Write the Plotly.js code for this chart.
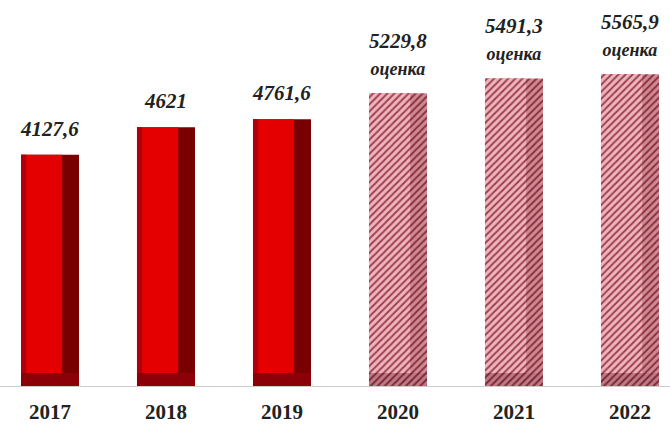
<!DOCTYPE html>
<html>
<head>
<meta charset="utf-8">
<script src="https://cdn.plot.ly/plotly-3.0.1.min.js"></script>
<style>html,body{margin:0;padding:0;background:#fff}#chart{width:670px;height:424px}</style>
</head>
<body>
<div id="chart"></div>
<script>
// ---- data ----
const years = ["2017", "2018", "2019", "2020", "2021", "2022"];
const values = [4127.6, 4621, 4761.6, 5229.8, 5491.3, 5565.9];
const valueLabels = ["4127,6", "4621", "4761,6", "5229,8", "5491,3", "5565,9"];
const isEstimate = [false, false, false, true, true, true];
const estimateNote = "оценка";

// ---- helpers ----
const pick = (arr, flag) => arr.filter((_, i) => isEstimate[i] === flag);
const actX = pick(years, false), actY = pick(values, false);
const estX = pick(years, true), estY = pick(values, true);

const W = 0.5;           // full bar width (category units)
const FRONT_W = 0.355;   // front face width
const BASE = 230;        // bottom face thickness (value units)

function solidSet(x, y) {
  return [
    {type: 'bar', x, y, width: W, marker: {color: '#780000'}, hoverinfo: 'skip'},
    {type: 'bar', x, y: y.map(v => v - BASE), base: BASE, width: FRONT_W, offset: -W/2,
     marker: {color: '#e40000'}, hoverinfo: 'skip'},
    {type: 'bar', x, y: y.map(v => v - BASE), base: BASE, width: 0.045, offset: -W/2,
     marker: {color: '#b0000c'}, hoverinfo: 'skip'},
    {type: 'bar', x, y: y.map(() => BASE), width: W, marker: {color: '#8c0008'}, hoverinfo: 'skip'}
  ];
}
function hatchSet(x, y) {
  return [
    {type: 'bar', x, y, width: W, hoverinfo: 'skip',
     marker: {color: '#c98088', pattern: {shape: '/', bgcolor: '#d08a92', fgcolor: '#8a3040', size: 5, solidity: 0.4}}},
    {type: 'bar', x, y: y.map(v => v - BASE), base: BASE, width: FRONT_W, offset: -W/2, hoverinfo: 'skip',
     marker: {color: '#eab0b6', pattern: {shape: '/', bgcolor: '#eeb6bc', fgcolor: '#a04050', size: 5, solidity: 0.4}}},
    {type: 'bar', x, y: y.map(() => BASE), width: W, hoverinfo: 'skip',
     marker: {color: '#b87078', pattern: {shape: '/', bgcolor: '#c07a84', fgcolor: '#7a2838', size: 5, solidity: 0.4}}}
  ];
}

const traces = [...solidSet(actX, actY), ...hatchSet(estX, estY)];

const annotations = years.map((yr, i) => ({
  x: i, y: values[i], xref: 'x', yref: 'y',
  xanchor: 'center', yanchor: 'bottom', yshift: 12, showarrow: false,
  text: isEstimate[i]
    ? valueLabels[i] + '<br><span style="font-size:18px;font-style:italic;font-weight:bold">' + estimateNote + '</span>'
    : valueLabels[i],
  font: {family: 'Liberation Serif', size: 21, color: '#222', weight: 'bold', style: 'italic'}
}));

const layout = {
  width: 670, height: 424,
  margin: {l: 0, r: 0, t: 0, b: 38},
  paper_bgcolor: '#fff', plot_bgcolor: '#fff',
  barmode: 'overlay', showlegend: false,
  xaxis: {
    type: 'category', range: [-0.431, 5.345],
    showline: true, linecolor: '#cccccc', linewidth: 1,
    showgrid: false, zeroline: false, ticks: '', ticklabelstandoff: 7,
    tickfont: {family: 'Liberation Serif', size: 21, color: '#222', weight: 'bold'}
  },
  yaxis: {range: [0, 6893], showticklabels: false, showline: false, ticks: '', showgrid: false, zeroline: false},
  annotations
};

Plotly.newPlot('chart', traces, layout, {staticPlot: true, displayModeBar: false})
  .catch(e => { document.body.insertAdjacentHTML('beforeend', '<pre>' + e + '</pre>'); });
</script>
</body>
</html>
